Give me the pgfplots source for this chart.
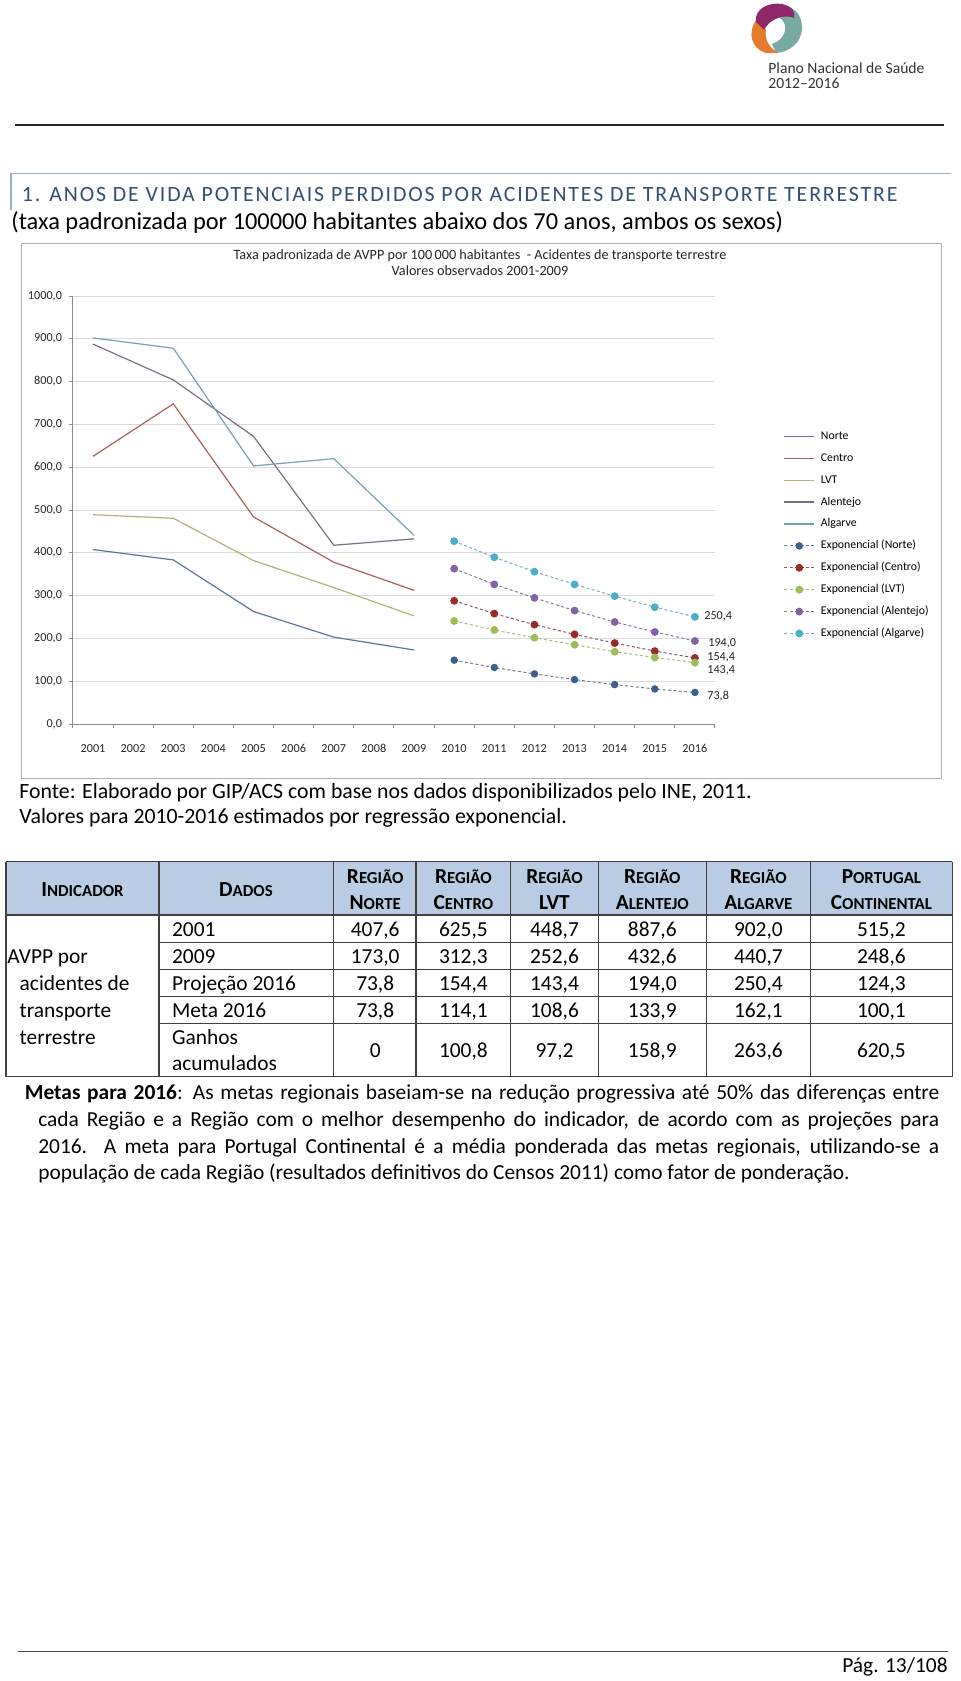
\documentclass[border=0pt]{standalone}
\usepackage{fontspec}
\setmainfont{Carlito}
\newfontfamily\spacedfont[LetterSpace=8.6]{Carlito}
\usepackage{pgfplots}
\pgfplotsset{compat=1.18}

\definecolor{norteL}{RGB}{95,115,160}
\definecolor{centroL}{RGB}{170,95,95}
\definecolor{lvtL}{RGB}{185,175,120}
\definecolor{alentejoL}{RGB}{125,110,135}
\definecolor{algarveL}{RGB}{120,160,180}
\definecolor{norteM}{RGB}{60,95,140}
\definecolor{centroM}{RGB}{150,45,45}
\definecolor{lvtM}{RGB}{155,190,90}
\definecolor{alentejoM}{RGB}{130,100,165}
\definecolor{algarveM}{RGB}{75,175,200}
\definecolor{norteD}{RGB}{110,125,150}
\definecolor{centroD}{RGB}{140,90,90}
\definecolor{lvtD}{RGB}{170,190,120}
\definecolor{alentejoD}{RGB}{140,120,160}
\definecolor{algarveD}{RGB}{120,175,195}
\definecolor{headfill}{RGB}{184,204,228}
\definecolor{sectitle}{RGB}{50,80,115}
\definecolor{secline}{RGB}{150,175,205}
\definecolor{logoMag}{RGB}{142,40,105}
\definecolor{logoOr}{RGB}{229,123,44}
\definecolor{logoTeal}{RGB}{120,170,162}

\newcommand{\SCx}[2]{{\fontsize{10.7}{12}\selectfont\bfseries #1}{\fontsize{8.4}{10}\selectfont\bfseries #2}}
\newcommand{\trow}[7]{%
  \node[anchor=base] at (375.2,#1) {#2};
  \node[anchor=base] at (463.4,#1) {#3};
  \node[anchor=base] at (554.5,#1) {#4};
  \node[anchor=base] at (652.3,#1) {#5};
  \node[anchor=base] at (758.4,#1) {#6};
  \node[anchor=base] at (881.4,#1) {#7};}

\begin{document}
\begin{tikzpicture}
\begin{scope}[x=0.5pt,y=-0.5pt]
\path[use as bounding box] (0,0) rectangle (960,1681);
\fill[white] (0,0) rectangle (960,1681);

% logo
\fill[logoTeal] (775,6) .. controls (795,4) and (802,15) .. (802,28) .. controls (802,42) and (790,52) .. (776,53) -- (772,44) .. controls (785,40) and (790,25) .. (780,18) -- cycle;
\fill[logoOr] (756,20) .. controls (748,32) and (750,48) .. (766,53) -- (778,53) .. controls (770,48) and (764,40) .. (766,30) -- cycle;
\fill[logoMag] (756,22) .. controls (754,8) and (770,2) .. (782,4) .. controls (792,6) and (796,12) .. (794,18) .. controls (785,14) and (770,18) .. (764,30) -- cycle;
\node[anchor=base west, inner sep=0pt, text=black!80, font=\fontsize{7.8}{9}\selectfont] at (768,73.3) {Plano Nacional de Saúde};
\node[anchor=base west, inner sep=0pt, text=black!80, font=\fontsize{7.8}{9}\selectfont] at (768,88.2) {2012\textendash 2016};
\draw[black!85, line width=0.75pt] (15,125) -- (944,125);

% section title
\draw[secline, line width=0.6pt] (11,173.3) -- (951,173.3);
\draw[secline, line width=0.6pt] (11,173.3) -- (11,210);
\node[anchor=base west, inner sep=0pt, text=sectitle, font=\spacedfont\fontsize{10.9}{12}\selectfont] at (21.5,201.7) {1. ANOS DE VIDA POTENCIAIS PERDIDOS POR ACIDENTES DE TRANSPORTE TERRESTRE};
\node[anchor=base west, inner sep=0pt, font=\fontsize{12.2}{14}\selectfont] at (11,229) {(taxa padronizada por 100000 habitantes abaixo dos 70 anos, ambos os sexos)};

% chart frame and title
\draw[black!30, line width=0.5pt] (21,243) rectangle (941,778);
\node[anchor=base, inner sep=0pt, text=black!85, font=\fontsize{7.1}{8}\selectfont] at (480,259) {Taxa padronizada de AVPP por 100\,000 habitantes \ - Acidentes de transporte terrestre};
\node[anchor=base, inner sep=0pt, text=black!85, font=\fontsize{7.1}{8}\selectfont] at (480,275) {Valores observados 2001-2009};

% source
\node[anchor=base west, inner sep=0pt, font=\fontsize{10.9}{12}\selectfont] at (19,798) {Fonte: Elaborado por GIP/ACS com base nos dados disponibilizados pelo INE, 2011.};
\node[anchor=base west, inner sep=0pt, font=\fontsize{10.9}{12}\selectfont] at (19,823.5) {Valores para 2010-2016 estimados por regressão exponencial.};

% table
\fill[headfill] (6,861.7) rectangle (952.3,915);
\begin{scope}[black!75, line width=0.6pt]
\draw (6,861.7) -- (952.3,861.7);
\draw (6,915) -- (952.3,915);
\draw (6,1076.7) -- (952.3,1076.7);
\foreach \yy in {942.7,969.3,996.7,1023.3} \draw (159,\yy) -- (952.3,\yy);
\draw (6,861.7) -- (6,1076.7);
\foreach \xx in {159,333.3,416,510.7,598.2,706.4,810.4,952.3} \draw (\xx,861.7) -- (\xx,1076.7);
\end{scope}
\begin{scope}[every node/.style={inner sep=0pt, text=black, font=\fontsize{10.7}{12}\selectfont}]
\node[anchor=base] at (82.5,896) {\SCx{I}{NDICADOR}};
\node[anchor=base] at (246,896) {\SCx{D}{ADOS}};
\foreach \cx/\la/\lb/\lc/\ld in {375.2/R/EGIÃO/N/ORTE, 463.4/R/EGIÃO/C/ENTRO, 554.5/R/EGIÃO/LVT/, 652.3/R/EGIÃO/A/LENTEJO, 758.4/R/EGIÃO/A/LGARVE, 881.4/P/ORTUGAL/C/ONTINENTAL}{
  \node[anchor=base] at (\cx,883.3) {\SCx{\la}{\lb}};
  \node[anchor=base] at (\cx,909.3) {\SCx{\lc}{\ld}};
}
\node[anchor=base west] at (171.7,936) {2001};
\node[anchor=base west] at (171.7,963.3) {2009};
\node[anchor=base west] at (171.7,990.7) {Projeção 2016};
\node[anchor=base west] at (171.7,1017.3) {Meta 2016};
\node[anchor=base west] at (171.7,1044) {Ganhos};
\node[anchor=base west] at (171.7,1070.7) {acumulados};
\node[anchor=base west] at (7,963.3) {AVPP por};
\node[anchor=base west] at (19.3,990.7) {acidentes de};
\node[anchor=base west] at (19.3,1017.3) {transporte};
\node[anchor=base west] at (19.3,1044) {terrestre};
\trow{936}{407,6}{625,5}{448,7}{887,6}{902,0}{515,2}
\trow{963.3}{173,0}{312,3}{252,6}{432,6}{440,7}{248,6}
\trow{990.7}{73,8}{154,4}{143,4}{194,0}{250,4}{124,3}
\trow{1017.3}{73,8}{114,1}{108,6}{133,9}{162,1}{100,1}
\trow{1057.3}{0}{100,8}{97,2}{158,9}{263,6}{620,5}

% paragraph
\node[anchor=base west] at (24.5,1099.7) {\makebox[457.2pt][s]{\textbf{Metas para 2016}: As metas regionais baseiam-se na redução progressiva até 50\% das diferenças entre}};
\node[anchor=base west] at (37.9,1126.4) {\makebox[450.4pt][s]{cada Região e a Região com o melhor desempenho do indicador, de acordo com as projeções para}};
\node[anchor=base west] at (37.9,1153.1) {\makebox[450.4pt][s]{2016. A meta para Portugal Continental é a média ponderada das metas regionais, utilizando-se a}};
\node[anchor=base west] at (37.9,1179.7) {população de cada Região (resultados definitivos do Censos 2011) como fator de ponderação.};

% footer
\node[anchor=base east] at (948,1672) {Pág. 13/108};
\end{scope}
\draw[black!70, line width=0.75pt] (18,1651.7) -- (948,1651.7);
\end{scope}

\begin{axis}[
  at={(36.5pt,-362pt)}, anchor=south west,
  scale only axis, width=321pt, height=214pt,
  xmin=2000.5, xmax=2016.5, ymin=0, ymax=1000,
  clip=false,
  axis lines*=left,
  axis line style={black!45, line width=0.5pt},
  tick style={black!45, line width=0.5pt},
  tick align=outside,
  major tick length=2pt,
  xtick={2000.5,2001.5,...,2016.5},
  xticklabels={2001,2002,2003,2004,2005,2006,2007,2008,2009,2010,2011,2012,2013,2014,2015,2016,{}},
  ytick={0,100,...,1000},
  ymajorgrids, grid style={black!14, line width=0.5pt},
  yticklabel style={/pgf/number format/.cd, fixed, fixed zerofill, precision=1, use comma, 1000 sep={}, assume math mode=true},
  tick label style={font=\fontsize{6.1}{7}\selectfont, text=black!85},
  xticklabel style={xshift=10pt, yshift=-4.5pt, text height=4pt, text depth=0pt},
  legend cell align=left,
  legend style={at={(1.1064,0.6846)}, anchor=north west, draw=none, fill=none, inner sep=0pt,
    row sep=5.95pt, column sep=3pt, font=\fontsize{5.9}{7}\selectfont,
    nodes={inner sep=0pt, text height=4pt, text depth=1pt}},
  legend image code/.code={\draw[mark repeat=2,mark phase=2,#1] plot coordinates {(0pt,0pt) (7.5pt,0pt) (15pt,0pt)};},
]
\addplot[norteL, line width=0.6pt, no markers] coordinates {(2001,407.6)(2003,383.4)(2005,262.8)(2007,203.0)(2009,173.0)};
\addlegendentry{Norte}
\addplot[centroL, line width=0.6pt, no markers] coordinates {(2001,625.5)(2003,748.0)(2005,483.7)(2007,378.0)(2009,312.3)};
\addlegendentry{Centro}
\addplot[lvtL, line width=0.6pt, no markers] coordinates {(2001,489.0)(2003,480.6)(2005,381.8)(2007,318.8)(2009,252.6)};
\addlegendentry{LVT}
\addplot[alentejoL, line width=0.6pt, no markers] coordinates {(2001,887.6)(2003,804.0)(2005,672.0)(2007,417.6)(2009,432.6)};
\addlegendentry{Alentejo}
\addplot[algarveL, line width=0.6pt, no markers] coordinates {(2001,902.0)(2003,878.0)(2005,603.0)(2007,620.0)(2009,440.7)};
\addlegendentry{Algarve}

\addplot[norteD, line width=0.5pt, dash pattern=on 1.5pt off 1.2pt, mark=*, mark size=1.6pt, mark options={solid, fill=norteM, draw=norteM}]
  coordinates {(2010,149.2)(2011,132.0)(2012,117.1)(2013,103.8)(2014,92.1)(2015,81.9)(2016,73.8)};
\addlegendentry{Exponencial (Norte)}
\addplot[centroD, line width=0.5pt, dash pattern=on 1.5pt off 1.2pt, mark=*, mark size=1.7pt, mark options={solid, fill=centroM, draw=centroM}]
  coordinates {(2010,287.8)(2011,258.0)(2012,232.2)(2013,209.5)(2014,189.1)(2015,170.3)(2016,154.4)};
\addlegendentry{Exponencial (Centro)}
\addplot[lvtD, line width=0.5pt, dash pattern=on 1.5pt off 1.2pt, mark=*, mark size=1.7pt, mark options={solid, fill=lvtM, draw=lvtM}]
  coordinates {(2010,240.8)(2011,219.7)(2012,201.6)(2013,185.2)(2014,168.8)(2015,155.4)(2016,143.4)};
\addlegendentry{Exponencial (LVT)}
\addplot[alentejoD, line width=0.5pt, dash pattern=on 1.5pt off 1.2pt, mark=*, mark size=1.7pt, mark options={solid, fill=alentejoM, draw=alentejoM}]
  coordinates {(2010,363.0)(2011,326.2)(2012,294.8)(2013,265.0)(2014,238.4)(2015,215.0)(2016,194.0)};
\addlegendentry{Exponencial (Alentejo)}
\addplot[algarveD, line width=0.5pt, dash pattern=on 1.5pt off 1.2pt, mark=*, mark size=1.7pt, mark options={solid, fill=algarveM, draw=algarveM}]
  coordinates {(2010,427.2)(2011,389.6)(2012,355.9)(2013,326.2)(2014,298.7)(2015,272.9)(2016,250.4)};
\addlegendentry{Exponencial (Algarve)}

\node[anchor=west, inner sep=0pt, font=\fontsize{6.1}{7}\selectfont, text=black!85, xshift=4.5pt] at (axis cs:2016,252) {250,4};
\node[anchor=west, inner sep=0pt, font=\fontsize{6.1}{7}\selectfont, text=black!85, xshift=6.5pt] at (axis cs:2016,189.6) {194,0};
\node[anchor=west, inner sep=0pt, font=\fontsize{6.1}{7}\selectfont, text=black!85, xshift=6pt] at (axis cs:2016,155) {154,4};
\node[anchor=west, inner sep=0pt, font=\fontsize{6.1}{7}\selectfont, text=black!85, xshift=6pt] at (axis cs:2016,124.5) {143,4};
\node[anchor=west, inner sep=0pt, font=\fontsize{6.1}{7}\selectfont, text=black!85, xshift=6pt] at (axis cs:2016,66) {73,8};
\end{axis}
\end{tikzpicture}
\end{document}
